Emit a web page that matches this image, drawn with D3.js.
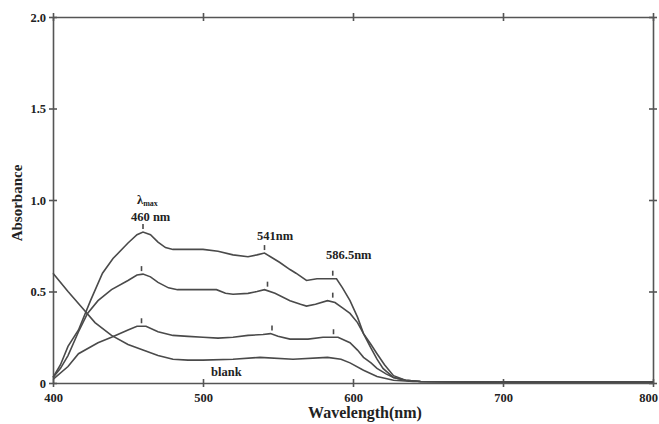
<!DOCTYPE html>
<html>
<head>
<meta charset="utf-8">
<script src="https://cdn.jsdelivr.net/npm/d3@7"></script>
<style>
  html, body { margin: 0; padding: 0; background: #fff; }
  svg { display: block; }
  text { font-family: "Liberation Serif", "Times New Roman", serif; font-weight: bold; fill: #222; }
</style>
</head>
<body>
<svg id="chart" width="659" height="424"></svg>
<script>
// ---- Data ----
const xTicks = [400, 500, 600, 700, 800];
const yTicks = [0, 0.5, 1.0, 1.5, 2.0];
const yTickLabels = ["0", "0.5", "1.0", "1.5", "2.0"];

const curve1Nm = [400,405,410,417,425,433,440,450,456,460,465,470,475,480,490,500,510,520,530,536,541,545,551,558,562,569,576,582,589,593,598,603,607,612,616,620,627,635,645,700,800];
const curve1A  = [0.03,0.10,0.20,0.29,0.45,0.60,0.68,0.765,0.81,0.825,0.81,0.77,0.74,0.73,0.73,0.73,0.72,0.70,0.69,0.70,0.71,0.69,0.66,0.62,0.60,0.56,0.57,0.57,0.57,0.52,0.45,0.36,0.27,0.19,0.13,0.08,0.03,0.015,0.008,0.005,0.005];

const curve2Nm = [400,405,410,417,423,430,439,450,456,460,465,470,477,483,500,509,515,520,530,536,541,548,558,565,569,575,583,588,593,598,603,607,612,616,621,627,635,645,700,800];
const curve2A  = [0.03,0.08,0.15,0.28,0.38,0.45,0.51,0.56,0.59,0.595,0.58,0.55,0.52,0.51,0.51,0.51,0.49,0.485,0.49,0.50,0.51,0.49,0.45,0.43,0.42,0.43,0.45,0.44,0.41,0.38,0.33,0.27,0.21,0.16,0.10,0.04,0.015,0.008,0.005,0.005];

const curve3Nm = [400,410,417,430,439,450,456,462,470,480,490,500,510,520,530,540,545,550,558,570,580,590,598,603,607,612,616,622,627,635,645,700,800];
const curve3A  = [0.02,0.09,0.16,0.22,0.25,0.29,0.31,0.31,0.28,0.26,0.255,0.25,0.245,0.25,0.26,0.265,0.27,0.255,0.24,0.24,0.25,0.25,0.22,0.18,0.14,0.11,0.08,0.05,0.03,0.015,0.008,0.005,0.005];

const blankNm = [400,410,419,428,439,450,460,470,480,490,500,520,538,560,583,592,598,607,616,627,640,700,800];
const blankA  = [0.60,0.50,0.415,0.33,0.26,0.21,0.18,0.15,0.13,0.125,0.125,0.13,0.14,0.13,0.14,0.13,0.11,0.07,0.035,0.015,0.008,0.005,0.005];

// peak markers (nm, absorbance)
const markNm = [460, 541, 586.5, 459, 543, 586.5, 459, 546, 587];
const markA  = [0.825, 0.71, 0.57, 0.595, 0.51, 0.45, 0.31, 0.27, 0.25];

// ---- Layout ----
const svg = d3.select("#chart");
const m = {left: 53, top: 17, right: 6, bottom: 41};
const W = 659 - m.left - m.right, H = 424 - m.top - m.bottom;
const x = d3.scaleLinear().domain([400, 800]).range([m.left, m.left + W]);
const y = d3.scaleLinear().domain([0, 2.0]).range([m.top + H, m.top]);
const axisColor = "#555";

function styleAxis(g) {
  g.select(".domain").attr("stroke", axisColor).attr("stroke-width", 1.6);
  g.selectAll(".tick line").attr("stroke", axisColor).attr("stroke-width", 1.6);
}
const xb = svg.append("g").attr("transform", `translate(0,${y(0)})`)
  .call(d3.axisBottom(x).tickValues(xTicks).tickSize(4).tickSizeOuter(0).tickPadding(6).tickFormat(d3.format("d")));
xb.selectAll(".tick line").attr("y1", -4);
xb.selectAll(".tick text").style("font-size", "12.5px").attr("fill", "#222")
  .attr("dx", d => d === 800 ? -5 : 0);
styleAxis(xb);
const xt = svg.append("g").attr("transform", `translate(0,${y(2)})`)
  .call(d3.axisTop(x).tickValues(xTicks).tickSize(4).tickSizeOuter(0).tickFormat(""));
xt.selectAll(".tick line").attr("y1", 4);
styleAxis(xt);
const yl = svg.append("g").attr("transform", `translate(${x(400)},0)`)
  .call(d3.axisLeft(y).tickValues(yTicks).tickSize(4).tickSizeOuter(0).tickPadding(3).tickFormat((d, i) => yTickLabels[i]));
yl.selectAll(".tick line").attr("x1", 4);
yl.selectAll(".tick text").style("font-size", "12.5px").attr("fill", "#222");
styleAxis(yl);
const yr = svg.append("g").attr("transform", `translate(${x(800)},0)`)
  .call(d3.axisRight(y).tickValues(yTicks).tickSize(4).tickSizeOuter(0).tickFormat(""));
yr.selectAll(".tick line").attr("x1", -4);
styleAxis(yr);

// curves
const line = d3.line().x(d => x(d[0])).y(d => y(d[1]));
const series = [[curve1Nm, curve1A], [curve2Nm, curve2A], [curve3Nm, curve3A], [blankNm, blankA]];
series.forEach(([nm, a]) => {
  svg.append("path").datum(nm.map((v, i) => [v, a[i]]))
    .attr("d", line).attr("fill", "none")
    .attr("stroke", "#4a4a4a").attr("stroke-width", 1.6);
});

// peak markers
svg.selectAll(".mark").data(markNm.map((v, i) => [v, markA[i]])).enter()
  .append("line").attr("class", "mark")
  .attr("x1", d => x(d[0])).attr("x2", d => x(d[0]))
  .attr("y1", d => y(d[1]) - 8).attr("y2", d => y(d[1]) - 3)
  .attr("stroke", "#4a4a4a").attr("stroke-width", 1.6);

// annotations
const lam = svg.append("text").attr("x", 137).attr("y", 204).style("font-size", "12.5px");
lam.append("tspan").text("λ");
lam.append("tspan").text("max").style("font-size", "8px").attr("dy", 2);
svg.append("text").attr("x", 131).attr("y", 221).style("font-size", "12.5px").text("460 nm");
svg.append("text").attr("x", 257).attr("y", 240).style("font-size", "12.5px").text("541nm");
svg.append("text").attr("x", 326).attr("y", 259).style("font-size", "12.5px").text("586.5nm");
svg.append("text").attr("x", 211).attr("y", 376).style("font-size", "12.5px").text("blank");

// axis titles
svg.append("text").attr("x", 365).attr("y", 418).attr("text-anchor", "middle")
  .style("font-size", "16px").text("Wavelength(nm)");
svg.append("text").attr("transform", "translate(22,203) rotate(-90)").attr("text-anchor", "middle")
  .style("font-size", "15px").text("Absorbance");
</script>
</body>
</html>
